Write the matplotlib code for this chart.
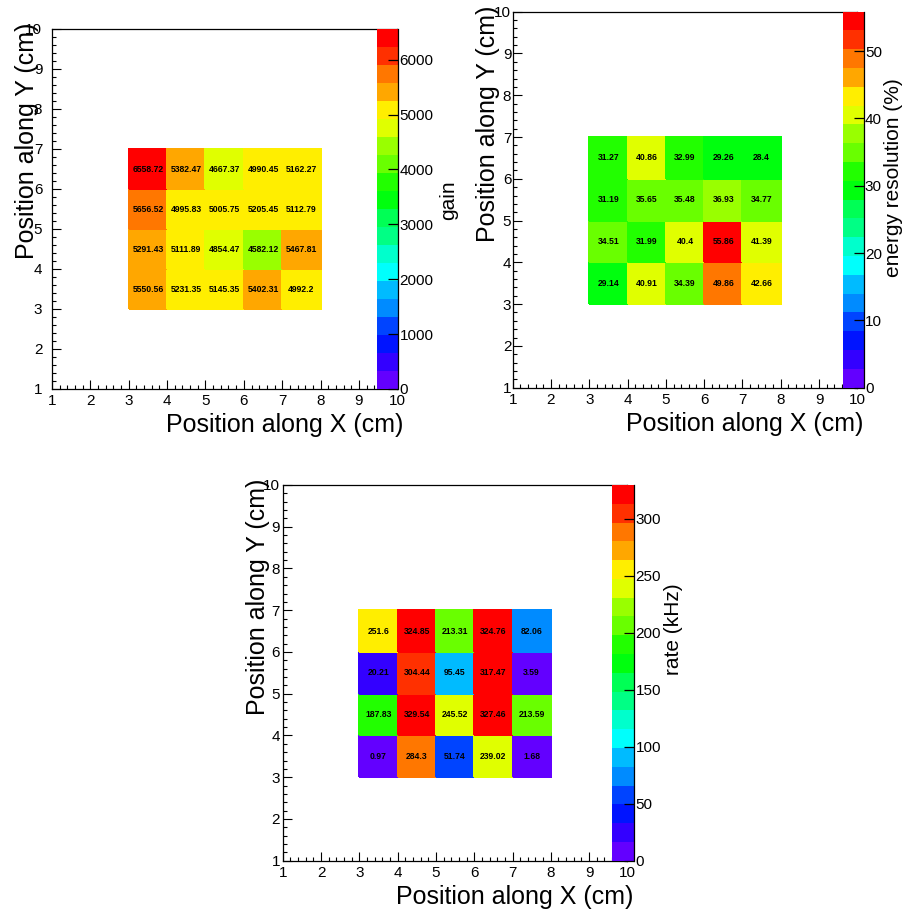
import colorsys
import numpy as np
import matplotlib
matplotlib.use('Agg')
import matplotlib.pyplot as plt
from matplotlib.colors import ListedColormap, BoundaryNorm
from matplotlib.ticker import MultipleLocator
from matplotlib.lines import Line2D

plt.rcParams['font.family'] = ['Liberation Sans', 'DejaVu Sans']

## data (rows from top y=6..7 down to y=3..4)
x_edges = [3, 4, 5, 6, 7, 8]
y_edges = [3, 4, 5, 6, 7]

gain = [
    [6558.72, 5382.47, 4667.37, 4990.45, 5162.27],
    [5656.52, 4995.83, 5005.75, 5205.45, 5112.79],
    [5291.43, 5111.89, 4854.47, 4582.12, 5467.81],
    [5550.56, 5231.35, 5145.35, 5402.31, 4992.2],
]
eres = [
    [31.27, 40.86, 32.99, 29.26, 28.4],
    [31.19, 35.65, 35.48, 36.93, 34.77],
    [34.51, 31.99, 40.4, 55.86, 41.39],
    [29.14, 40.91, 34.39, 49.86, 42.66],
]
rate = [
    [251.6, 324.85, 213.31, 324.76, 82.06],
    [20.21, 304.44, 95.45, 317.47, 3.59],
    [187.83, 329.54, 245.52, 327.46, 213.59],
    [0.97, 284.3, 51.74, 239.02, 1.68],
]
gain_ticks = [0, 1000, 2000, 3000, 4000, 5000, 6000]
eres_ticks = [0, 10, 20, 30, 40, 50]
rate_ticks = [0, 50, 100, 150, 200, 250, 300]

xlabel = 'Position along X (cm)'
ylabel = 'Position along Y (cm)'

W, H = 906, 911
NLEV = 20


def box(l, t, r, b):
    return [l / W, 1 - b / H, (r - l) / W, (b - t) / H]


def root_palette(nlev):
    # old ROOT "pretty" palette (SetPalette(1)) picked for nlev contours
    cols = []
    for i in range(nlev):
        j = int((i + 0.99) * 50 / nlev)
        if j >= 49:
            cols.append((1.0, 0.0, 0.0))
        else:
            hue = 280 - (j + 1) * 280 / 50
            cols.append(colorsys.hls_to_rgb(hue / 360, 0.5, 1.0))
    return cols


pal = root_palette(NLEV)
cmap = ListedColormap(pal).with_extremes(over=pal[-1], under=pal[0])

fig = plt.figure(figsize=(W / 100, H / 100), dpi=100)


def panel(frame, cbox, rows, zticks, ztitle, ztop, zx, ypad):
    l, t, r, b = frame
    ax = fig.add_axes(box(l, t, r, b))
    z = np.array(rows)[::-1]
    norm = BoundaryNorm(np.linspace(0, z.max(), NLEV + 1), NLEV)
    m = ax.pcolormesh(x_edges, y_edges, z, cmap=cmap, norm=norm,
                      edgecolors='face', linewidth=0.3)
    for iy in range(z.shape[0]):
        for ix in range(z.shape[1]):
            ax.text((x_edges[ix] + x_edges[ix + 1]) / 2,
                    (y_edges[iy] + y_edges[iy + 1]) / 2,
                    '{:g}'.format(z[iy, ix]), ha='center', va='center',
                    fontsize=6.2, fontweight='bold', color='black')
    ax.set_xlim(1, 10)
    ax.set_ylim(1, 10)
    ax.set_xticks(range(1, 11))
    ax.set_yticks(range(1, 11))
    ax.xaxis.set_minor_locator(MultipleLocator(0.2))
    ax.yaxis.set_minor_locator(MultipleLocator(0.2))
    ax.tick_params(which='both', direction='in', top=False, right=False,
                   labelsize=11, width=0.8)
    ax.tick_params(which='major', length=6.5)
    ax.tick_params(which='minor', length=3.2)
    ax.tick_params(axis='x', pad=3.5)
    ax.tick_params(axis='y', pad=ypad)
    for s in ax.spines.values():
        s.set_linewidth(0.9)

    fig.text((r + 6) / W, 1 - (b + 43) / H, xlabel, fontsize=18,
             ha='right', va='baseline')
    fig.text((l - 18) / W, 1 - (t - 6) / H, ylabel, fontsize=18,
             rotation=90, rotation_mode='anchor', ha='right', va='baseline')

    cl, cr = cbox
    cax = fig.add_axes(box(cl, t, cr, b))
    cb = fig.colorbar(m, cax=cax, spacing='proportional')
    cb.set_ticks(zticks, labels=[str(v) for v in zticks])
    cb.outline.set_visible(False)
    cax.yaxis.set_ticks_position('right')
    cax.tick_params(direction='in', length=7, width=0.9, labelsize=11, pad=1)
    cax.minorticks_off()
    cax.add_line(Line2D([1, 1], [0, 1], transform=cax.transAxes,
                        color='black', lw=0.9, clip_on=False))
    fig.text(zx / W, 1 - ztop / H, ztitle, fontsize=15, rotation=90,
             rotation_mode='anchor', ha='right', va='baseline')
    return ax


panel((52, 29, 397.3, 389), (377.3, 398.3), gain, gain_ticks,
      'gain', 180, 454, 7)
panel((512.7, 11.7, 857.3, 387.7), (842.7, 863.5), eres, eres_ticks,
      'energy resolution (%)', 78, 899, 1)
panel((282.7, 485, 627.4, 860.7), (612.3, 634), rate, rate_ticks,
      'rate (kHz)', 583, 679, 2)

fig.savefig('out.png', dpi=100)
